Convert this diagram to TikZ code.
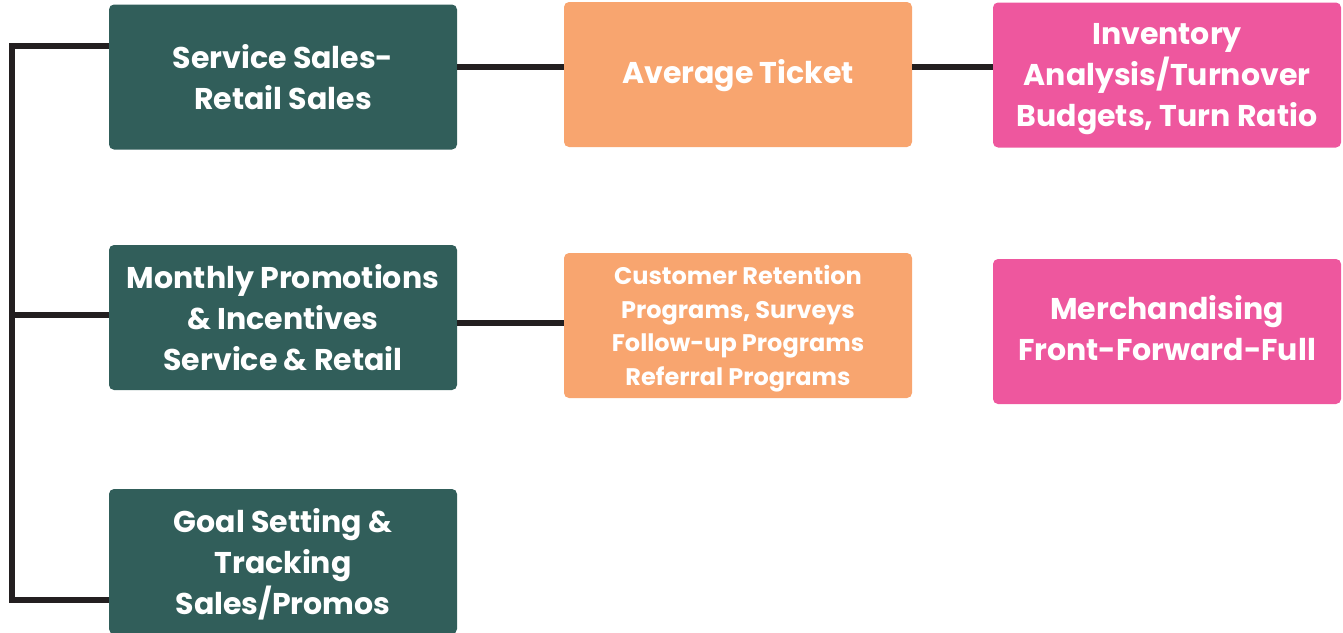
\documentclass[tikz,border=0pt]{standalone}
\usepackage{fontspec}
\setmainfont{Poppins}
\usepackage{tikz}
\usetikzlibrary{positioning}
\usetikzlibrary{calc}

\definecolor{teal}{HTML}{315E5A}
\definecolor{peach}{HTML}{F8A56F}
\definecolor{rose}{HTML}{EE579E}
\definecolor{ink}{HTML}{231F20}

\tikzset{
	card/.style={rounded corners=5pt, text=white, align=center,
		minimum width=348pt, minimum height=145pt, inner sep=0pt, text depth=0pt,
		font=\fontsize{30}{41}\selectfont\bfseries},
	link/.style={draw=ink, line width=6pt}
}

\begin{document}
\begin{tikzpicture}[x=1pt, y=1pt]
					\useasboundingbox (0,0) rectangle (1343,-632);
					\node[card, fill=teal] (sales) at (283, -77) {Service Sales-\\Retail Sales};
					\node[card, fill=teal] (promo) at (283, -317.5) {Monthly Promotions\\\& Incentives\\Service \& Retail};
					\node[card, fill=teal] (goal) at (283, -561.5) {Goal Setting \&\\Tracking\\Sales/Promos};
					\node[card, fill=peach, text depth=6pt] (ticket) at (738, -74.5) {Average Ticket};
					\node[card, fill=peach, font=\fontsize{24}{33.5}\selectfont\bfseries] (retain) at (738, -325.5) {Customer Retention\\Programs, Surveys\\Follow-up Programs\\Referral Programs};
					\node[card, fill=rose] (stock) at (1167, -75) {Inventory\\Analysis/Turnover\\Budgets, Turn Ratio};
					\node[card, fill=rose, text depth=8pt] (merch) at (1167, -331.5) {Merchandising\\Front-Forward-Full};

					\coordinate (top) at (12, -46);
					\coordinate (bot) at (12, -600);

					\draw[link] (top -| sales.west) -- (top) -- (bot) -- (bot -| goal.west);
					\draw[link] ([yshift=2.5pt]promo.west) -- ([yshift=2.5pt]promo.west -| top);
					\draw[link] ([yshift=7.5pt]ticket.west) -- ([yshift=7.5pt]ticket.west -| sales.east);
					\draw[link] ([yshift=7.5pt]ticket.east) -- ([yshift=7.5pt]ticket.east -| stock.west);
					\draw[link] ([yshift=2.5pt]retain.west) -- ([yshift=2.5pt]retain.west -| promo.east);
                \end{tikzpicture}
\end{document}
